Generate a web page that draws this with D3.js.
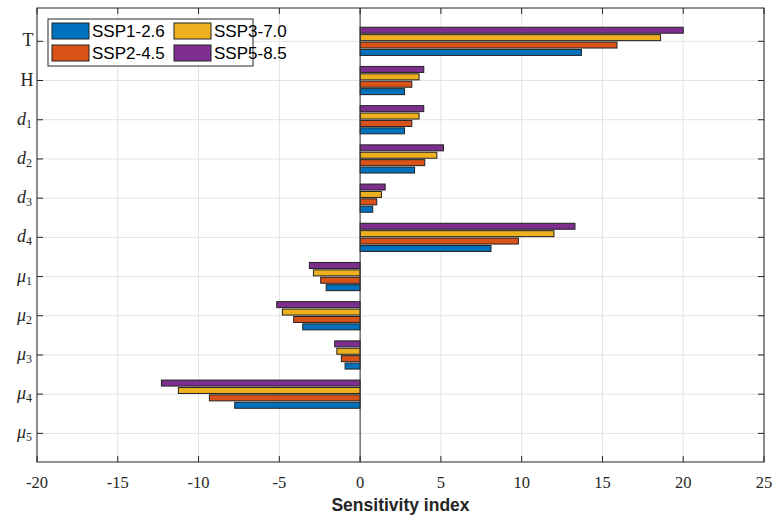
<!DOCTYPE html>
<html>
<head>
<meta charset="utf-8">
<script src="https://cdn.jsdelivr.net/npm/d3@7"></script>
<style>
  body { margin: 0; background: #fff; }
  svg { display: block; }
</style>
</head>
<body>
<div id="chart"></div>
<script>
// parameters, top to bottom
const params = ["T", "H", "d1", "d2", "d3", "d4", "mu1", "mu2", "mu3", "mu4", "mu5"];
const scenarios = ["SSP1-2.6", "SSP2-4.5", "SSP3-7.0", "SSP5-8.5"];
const colors = ["#0072BD", "#D95319", "#EDB120", "#7E2F8E"];

// sensitivity index per scenario (same order as params)
const ssp126 = [13.7, 2.75, 2.75, 3.37, 0.78, 8.1, -2.1, -3.55, -0.93, -7.76, 0];
const ssp245 = [15.9, 3.2, 3.2, 4.0, 1.03, 9.8, -2.44, -4.11, -1.16, -9.33, 0];
const ssp370 = [18.6, 3.65, 3.65, 4.75, 1.32, 12.0, -2.89, -4.81, -1.44, -11.25, 0];
const ssp585 = [20.0, 3.94, 3.94, 5.16, 1.55, 13.3, -3.14, -5.16, -1.57, -12.3, 0];
const series = [ssp126, ssp245, ssp370, ssp585];

const xTicks = [-20, -15, -10, -5, 0, 5, 10, 15, 20, 25];

const width = 773;
const height = 517;
const plotLeft = 37, plotRight = 764, plotTop = 8, plotBottom = 462;

const svg = d3.select("#chart")
    .append("svg")
    .attr("width", width)
    .attr("height", height);

const x = d3.scaleLinear().domain([-20, 25]).range([plotLeft, plotRight]);
// category index -> y
const y = d3.scaleLinear().domain([-0.85, 10.73]).range([plotTop, plotBottom]);

// grid
svg.append("g")
    .selectAll("line")
    .data(xTicks)
    .join("line")
    .attr("x1", (d) => x(d)).attr("x2", (d) => x(d))
    .attr("y1", plotTop).attr("y2", plotBottom)
    .attr("stroke", "#e3e3e3")
    .attr("stroke-width", 1);

svg.append("g")
    .selectAll("line")
    .data(params)
    .join("line")
    .attr("x1", plotLeft).attr("x2", plotRight)
    .attr("y1", (d, i) => y(i)).attr("y2", (d, i) => y(i))
    .attr("stroke", "#e3e3e3")
    .attr("stroke-width", 1);

// bars: first series at the bottom of each group
const barStep = 7.4;
const barH = 6;
series.forEach((vals, s) => {
    const offset = (1.5 - s) * barStep;
    svg.append("g")
        .selectAll("rect")
        .data(vals)
        .join("rect")
        .attr("x", (d) => x(Math.min(0, d)))
        .attr("width", (d) => Math.abs(x(d) - x(0)))
        .attr("y", (d, i) => y(i) + offset - barH / 2)
        .attr("height", barH)
        .attr("fill", colors[s])
        .attr("stroke", "#222")
        .attr("stroke-width", 1)
        .attr("display", (d) => (d === 0 ? "none" : null));
});

// baseline at zero
svg.append("line")
    .attr("x1", x(0)).attr("x2", x(0))
    .attr("y1", plotTop).attr("y2", plotBottom)
    .attr("stroke", "#333")
    .attr("stroke-width", 1);

// box
svg.append("rect")
    .attr("x", plotLeft).attr("y", plotTop)
    .attr("width", plotRight - plotLeft).attr("height", plotBottom - plotTop)
    .attr("fill", "none")
    .attr("stroke", "#262626")
    .attr("stroke-width", 1);

// ticks (inward)
const tickG = svg.append("g").attr("stroke", "#262626");
xTicks.forEach((t) => {
    tickG.append("line").attr("x1", x(t)).attr("x2", x(t)).attr("y1", plotBottom).attr("y2", plotBottom - 6);
    tickG.append("line").attr("x1", x(t)).attr("x2", x(t)).attr("y1", plotTop).attr("y2", plotTop + 6);
});
params.forEach((p, i) => {
    tickG.append("line").attr("x1", plotLeft).attr("x2", plotLeft + 6).attr("y1", y(i)).attr("y2", y(i));
    tickG.append("line").attr("x1", plotRight).attr("x2", plotRight - 6).attr("y1", y(i)).attr("y2", y(i));
});

// x tick labels
svg.append("g")
    .selectAll("text")
    .data(xTicks)
    .join("text")
    .attr("x", (d) => x(d))
    .attr("y", 488)
    .attr("text-anchor", "middle")
    .attr("font-family", "'Liberation Serif', 'DejaVu Serif', serif")
    .attr("font-size", 16.5)
    .attr("fill", "#262626")
    .text((d) => d);

// y tick labels
const yLab = svg.append("g")
    .attr("font-family", "'Liberation Serif', 'DejaVu Serif', serif")
    .attr("font-size", 18)
    .attr("fill", "#262626");
params.forEach((p, i) => {
    const t = yLab.append("text")
        .attr("x", 32)
        .attr("y", y(i) + 5)
        .attr("text-anchor", "end");
    if (p === "T" || p === "H") {
        t.attr("x", 33.5).text(p);
    } else {
        const base = p.startsWith("mu") ? "\u03bc" : "d";
        const sub = p.replace(/^(mu|d)/, "");
        t.append("tspan").attr("font-style", "italic").text(base);
        t.append("tspan").attr("font-size", 12).attr("dy", 3).text(sub);
    }
});

// x label
svg.append("text")
    .attr("x", (plotLeft + plotRight) / 2)
    .attr("y", 511)
    .attr("text-anchor", "middle")
    .attr("font-family", "'Liberation Sans', Arial, sans-serif")
    .attr("font-weight", "bold")
    .attr("font-size", 17.5)
    .attr("fill", "#262626")
    .text("Sensitivity index");

// legend
const legend = svg.append("g");
legend.append("rect")
    .attr("x", 48).attr("y", 19)
    .attr("width", 205).attr("height", 47)
    .attr("fill", "#fff")
    .attr("stroke", "#262626")
    .attr("stroke-width", 1);
const legendPos = [[0, 0], [0, 1], [1, 0], [1, 1]];
scenarios.forEach((name, s) => {
    const [col, row] = legendPos[s];
    const lx = 52 + col * 122;
    const ly = 23 + row * 22;
    legend.append("rect")
        .attr("x", lx).attr("y", ly)
        .attr("width", 37).attr("height", 16)
        .attr("fill", colors[s])
        .attr("stroke", "#222");
    legend.append("text")
        .attr("x", lx + 40).attr("y", ly + 14)
        .attr("font-family", "'Liberation Sans', Arial, sans-serif")
        .attr("font-size", 17)
        .attr("fill", "#000")
        .text(name);
});
</script>
</body>
</html>
